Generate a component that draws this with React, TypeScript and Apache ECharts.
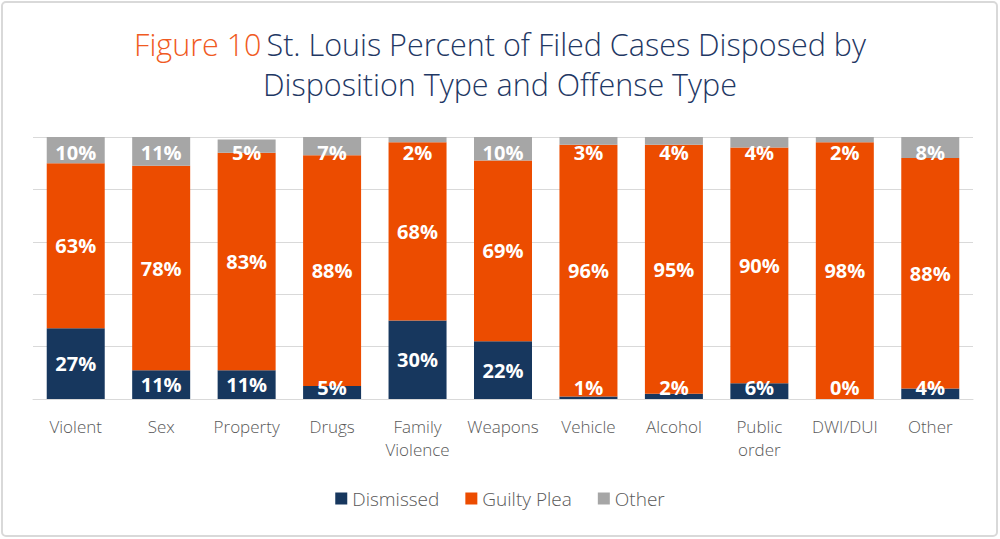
import React, { useEffect, useRef } from "react";
import * as echarts from "echarts";

const categories = ["Violent", "Sex", "Property", "Drugs", "Family\nViolence", "Weapons", "Vehicle", "Alcohol", "Public\norder", "DWI/DUI", "Other"];
const dismissed = [27, 11, 11, 5, 30, 22, 1, 2, 6, 0, 4];
const guiltyPlea = [63, 78, 83, 88, 68, 69, 96, 95, 90, 98, 88];
const other = [10, 11, 5, 7, 2, 10, 3, 4, 4, 2, 8];
const seriesNames = ["Dismissed", "Guilty Plea", "Other"];
const colors = ["#17375E", "#EC4C00", "#A6A6A6"];

const GRID_TOP = 137;
const GRID_BOTTOM_Y = 399;

export default function App() {
  const ref = useRef<HTMLDivElement>(null);
  useEffect(() => {
    if (!ref.current) return;
    const chart = echarts.init(ref.current, null, { renderer: "svg" });
    const font = "'Open Sans', 'Noto Sans', sans-serif";
    const label = {
      show: true,
      position: "inside" as const,
      formatter: "{c}%",
      color: "#FFFFFF",
      fontSize: 20,
      fontWeight: "bold" as const,
      fontFamily: font,
    };
    const datasets = [dismissed, guiltyPlea, other];
    const clampLayout = (params: any) => {
      const r = params.labelRect;
      const cx = r.x + r.width / 2;
      const cy = r.y + r.height / 2;
      const minY = GRID_TOP + 15;
      const maxY = GRID_BOTTOM_Y - 12;
      const y = Math.min(Math.max(cy, minY), maxY);
      return { x: cx, y, align: "center", verticalAlign: "middle" };
    };
    chart.setOption({
      animation: false,
      backgroundColor: "#FFFFFF",
      title: {
        left: "center",
        top: 19,
        text: "{a|Figure 10} {b|St. Louis Percent of Filed Cases Disposed by}\n{b|Disposition Type and Offense Type}",
        textStyle: {
          rich: {
            a: { color: "#F05A22", fontSize: 30.5, fontWeight: 300, fontFamily: font, lineHeight: 40, align: "center" },
            b: { color: "#1F3864", fontSize: 30.5, fontWeight: 300, fontFamily: font, lineHeight: 40, align: "center" },
          },
        },
      },
      legend: {
        bottom: 26,
        left: "center",
        itemWidth: 12,
        itemHeight: 12,
        itemGap: 26,
        icon: "rect",
        textStyle: { color: "#595959", fontSize: 19, fontFamily: font, fontWeight: 300 },
        data: seriesNames,
      },
      grid: { left: 33, right: 27, top: GRID_TOP, bottom: 539 - GRID_BOTTOM_Y, containLabel: false },
      xAxis: {
        type: "category",
        data: categories,
        axisLine: { lineStyle: { color: "#D9D9D9", width: 1 } },
        axisTick: { show: false },
        axisLabel: { interval: 0, color: "#595959", fontSize: 17, fontFamily: font, fontWeight: 300, lineHeight: 23, margin: 16 },
      },
      yAxis: {
        type: "value",
        min: 0,
        max: 100,
        interval: 20,
        axisLabel: { show: false },
        axisLine: { show: false },
        axisTick: { show: false },
        splitLine: { lineStyle: { color: "#D9D9D9", width: 1 } },
      },
      series: seriesNames.map((name, i) => ({
        name,
        type: "bar",
        stack: "total",
        barWidth: 58,
        data: datasets[i],
        itemStyle: { color: colors[i] },
        label,
        labelLayout: clampLayout,
      })),
      graphic: [
        {
          type: "rect",
          shape: { x: 2, y: 2, width: 995, height: 534, r: 4 },
          style: { fill: "none", stroke: "#D9D9D9", lineWidth: 2 },
          silent: true,
        },
      ],
    });
    return () => chart.dispose();
  }, []);
  return <div ref={ref} style={{ position: "absolute", left: 0, top: 0, width: 1000, height: 539 }} />;
}
